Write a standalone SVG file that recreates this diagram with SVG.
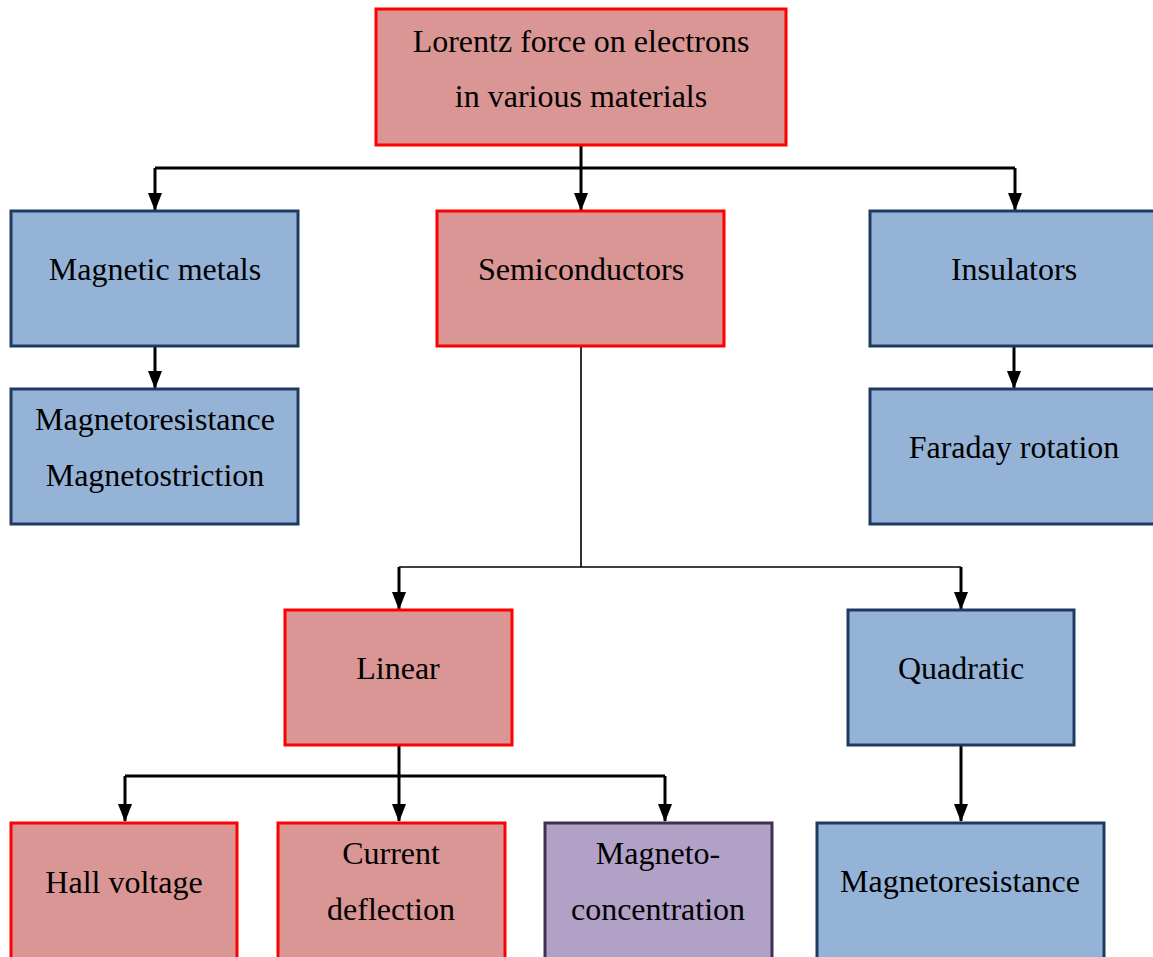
<svg xmlns="http://www.w3.org/2000/svg" width="1153" height="957" viewBox="0 0 1153 957">
  <defs>
    <!-- filled arrowhead, tip at the end of the line -->
    <marker id="arrow" markerUnits="userSpaceOnUse" markerWidth="18" markerHeight="14" viewBox="0 0 18 14" refX="17" refY="7" orient="auto">
      <path d="M0,0 L18,7 L0,14 Z" fill="#000"/>
    </marker>
    <style>
      .red { fill: #D99694; stroke: #FF0000; stroke-width: 3; }
      .blue { fill: #95B3D7; stroke: #1F3A60; stroke-width: 3; }
      .purple { fill: #B2A1C7; stroke: #3F3151; stroke-width: 3; }
      .label { font-family: "Liberation Serif", "Times New Roman", serif; font-size: 32px; fill: #000; text-anchor: middle; }
      .conn { fill: none; stroke: #000; stroke-width: 3; }
      .thin { fill: none; stroke: #000; stroke-width: 1.6; }
    </style>
  </defs>

  <!-- connectors -->
  <g id="connectors">
    <path class="conn" d="M581,146 V168 M155,168 H1015"/>
    <path class="conn" d="M155,168 V210" marker-end="url(#arrow)"/>
    <path class="conn" d="M581,168 V210" marker-end="url(#arrow)"/>
    <path class="conn" d="M1015,168 V210" marker-end="url(#arrow)"/>
    <path class="conn" d="M155,346 V388" marker-end="url(#arrow)"/>
    <path class="conn" d="M1014,346 V388" marker-end="url(#arrow)"/>
    <path class="thin" d="M581,346 V567 M399,567 H961"/>
    <path class="conn" d="M399,567 V609" marker-end="url(#arrow)"/>
    <path class="conn" d="M961,567 V609" marker-end="url(#arrow)"/>
    <path class="conn" d="M399,746 V776 M125,776 H665"/>
    <path class="conn" d="M125,776 V821" marker-end="url(#arrow)"/>
    <path class="conn" d="M399,776 V821" marker-end="url(#arrow)"/>
    <path class="conn" d="M665,776 V821" marker-end="url(#arrow)"/>
    <path class="conn" d="M961,746 V821" marker-end="url(#arrow)"/>
  </g>

  <g id="root">
    <rect class="red" x="376" y="9" width="410" height="136"/>
    <text class="label" x="581" y="52">Lorentz force on electrons</text>
    <text class="label" x="581" y="107">in various materials</text>
  </g>

  <g id="magnetic-metals">
    <rect class="blue" x="11" y="211" width="287" height="135"/>
    <text class="label" x="155" y="280">Magnetic metals</text>
  </g>

  <g id="semiconductors">
    <rect class="red" x="437" y="211" width="287" height="135"/>
    <text class="label" x="581" y="280">Semiconductors</text>
  </g>

  <g id="insulators">
    <rect class="blue" x="870" y="211" width="290" height="135"/>
    <text class="label" x="1014" y="280">Insulators</text>
  </g>

  <g id="metal-effects">
    <rect class="blue" x="11" y="389" width="287" height="135"/>
    <text class="label" x="155" y="430">Magnetoresistance</text>
    <text class="label" x="155" y="486">Magnetostriction</text>
  </g>

  <g id="faraday">
    <rect class="blue" x="870" y="389" width="290" height="135"/>
    <text class="label" x="1014" y="458">Faraday rotation</text>
  </g>

  <g id="linear">
    <rect class="red" x="285" y="610" width="227" height="135"/>
    <text class="label" x="398" y="679">Linear</text>
  </g>

  <g id="quadratic">
    <rect class="blue" x="848" y="610" width="226" height="135"/>
    <text class="label" x="961" y="679">Quadratic</text>
  </g>

  <g id="hall">
    <rect class="red" x="11" y="823" width="226" height="150"/>
    <text class="label" x="124" y="893">Hall voltage</text>
  </g>

  <g id="deflection">
    <rect class="red" x="278" y="823" width="227" height="150"/>
    <text class="label" x="391" y="864">Current</text>
    <text class="label" x="391" y="920">deflection</text>
  </g>

  <g id="magnetoconcentration">
    <rect class="purple" x="545" y="823" width="227" height="150"/>
    <text class="label" x="658" y="864">Magneto-</text>
    <text class="label" x="658" y="920">concentration</text>
  </g>

  <g id="quadratic-mr">
    <rect class="blue" x="817" y="823" width="287" height="150"/>
    <text class="label" x="960" y="892">Magnetoresistance</text>
  </g>
</svg>
